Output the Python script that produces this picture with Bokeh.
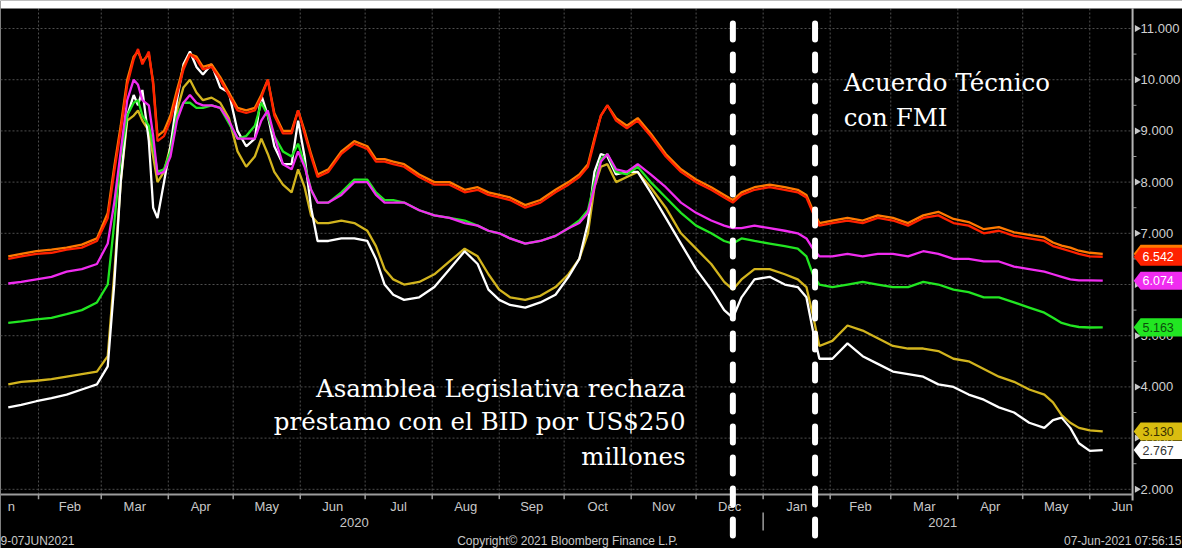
from datetime import datetime
import pandas as pd
from bokeh.plotting import figure
from bokeh.models import Range1d, BoxAnnotation
from bokeh.core.properties import value
from bokeh.embed import file_html
from bokeh.resources import INLINE

dates = ["2020-01-18","2020-01-24","2020-01-31","2020-02-07","2020-02-14","2020-02-21","2020-02-28",
         "2020-03-04","2020-03-07","2020-03-10","2020-03-13","2020-03-16","2020-03-18","2020-03-20","2020-03-23",
         "2020-03-25","2020-03-27","2020-03-30","2020-04-02","2020-04-05","2020-04-08","2020-04-11","2020-04-14",
         "2020-04-17","2020-04-21","2020-04-25","2020-04-29","2020-05-03","2020-05-07","2020-05-11","2020-05-14",
         "2020-05-17","2020-05-20","2020-05-24","2020-05-28","2020-05-31","2020-06-03","2020-06-06","2020-06-09",
         "2020-06-14","2020-06-20","2020-06-26","2020-07-02","2020-07-06","2020-07-10","2020-07-14","2020-07-19",
         "2020-07-26","2020-08-02","2020-08-09","2020-08-16","2020-08-22","2020-08-27","2020-09-01","2020-09-06",
         "2020-09-13","2020-09-20","2020-09-27","2020-10-03","2020-10-08","2020-10-12","2020-10-15","2020-10-18",
         "2020-10-21","2020-10-25","2020-10-30","2020-11-04","2020-11-10","2020-11-17","2020-11-24","2020-12-01",
         "2020-12-08","2020-12-14","2020-12-18","2020-12-22","2020-12-28","2021-01-04","2021-01-11","2021-01-17",
         "2021-01-21","2021-01-24","2021-01-27","2021-02-02","2021-02-09","2021-02-16","2021-02-23","2021-03-02",
         "2021-03-09","2021-03-16","2021-03-23","2021-03-30","2021-04-06","2021-04-13","2021-04-20","2021-04-27",
         "2021-05-04","2021-05-11","2021-05-15","2021-05-19","2021-05-23","2021-05-27","2021-06-01","2021-06-07"]

red = [6.50,6.55,6.60,6.62,6.68,6.72,6.85,7.3,8.2,9.0,9.9,10.4,10.6,10.3,10.55,9.9,8.8,8.9,9.2,9.7,10.2,10.5,
       10.4,10.2,10.25,10.0,9.7,9.4,9.35,9.4,9.65,10.0,9.3,8.95,8.95,9.4,8.95,8.5,8.1,8.2,8.55,8.75,8.65,8.4,
       8.4,8.35,8.3,8.1,7.95,7.95,7.8,7.85,7.75,7.7,7.65,7.5,7.6,7.8,7.95,8.1,8.3,8.8,9.3,9.5,9.2,9.05,9.2,8.9,
       8.5,8.2,8.0,7.85,7.7,7.6,7.75,7.85,7.9,7.85,7.8,7.7,7.4,7.15,7.2,7.25,7.2,7.3,7.25,7.15,7.3,7.35,7.2,7.15,
       7.0,7.05,6.95,6.9,6.85,6.75,6.7,6.65,6.6,6.55,6.542]

orange = [6.55,6.6,6.65,6.68,6.72,6.78,6.9,7.4,8.3,9.1,10.0,10.45,10.55,10.35,10.5,9.95,8.9,9.0,9.3,9.8,10.25,
          10.5,10.45,10.25,10.3,10.05,9.75,9.45,9.4,9.45,9.7,10.0,9.35,9.0,9.0,9.4,9.0,8.55,8.15,8.25,8.6,8.8,
          8.7,8.45,8.45,8.4,8.35,8.15,8.0,8.0,7.85,7.9,7.8,7.75,7.7,7.55,7.65,7.85,8.0,8.15,8.35,8.85,9.3,9.5,
          9.25,9.1,9.25,8.95,8.55,8.25,8.05,7.9,7.75,7.65,7.8,7.9,7.95,7.9,7.85,7.75,7.45,7.2,7.25,7.3,7.25,7.35,
          7.3,7.2,7.35,7.42,7.28,7.22,7.08,7.12,7.02,6.97,6.92,6.82,6.76,6.72,6.66,6.62,6.60]

magenta = [6.02,6.05,6.10,6.15,6.25,6.30,6.40,6.8,7.6,8.6,9.6,10.0,9.9,9.6,9.5,8.9,8.15,8.2,8.5,9.2,9.55,9.7,
           9.55,9.5,9.5,9.45,9.2,8.85,8.85,8.85,9.2,9.4,8.9,8.35,8.25,8.6,8.3,7.85,7.6,7.6,7.75,8.0,8.0,7.75,
           7.6,7.6,7.6,7.45,7.35,7.3,7.2,7.15,7.05,7.0,6.9,6.8,6.85,6.95,7.1,7.2,7.4,7.9,8.4,8.55,8.25,8.2,8.35,
           8.15,7.9,7.6,7.4,7.25,7.15,7.1,7.1,7.15,7.1,7.05,7.0,6.9,6.7,6.55,6.55,6.6,6.55,6.6,6.6,6.55,6.65,6.6,
           6.5,6.5,6.45,6.45,6.35,6.3,6.25,6.2,6.15,6.1,6.08,6.08,6.074]

green = [5.25,5.28,5.32,5.35,5.42,5.5,5.65,6.0,7.2,8.5,9.3,9.55,9.6,9.3,9.1,8.7,8.2,8.25,8.6,9.3,9.55,9.55,9.45,
         9.45,9.5,9.45,9.15,8.85,8.9,9.1,9.55,9.3,8.9,8.6,8.5,8.75,8.35,7.85,7.6,7.6,7.8,8.05,8.05,7.8,7.65,7.65,
         7.6,7.45,7.35,7.3,7.25,7.15,7.05,7.0,6.9,6.8,6.85,6.95,7.1,7.25,7.45,8.0,8.45,8.55,8.2,8.15,8.3,8.0,7.7,
         7.4,7.15,7.0,6.85,6.8,6.9,6.85,6.8,6.75,6.7,6.55,6.2,6.0,5.95,6.0,6.05,6.0,5.95,5.95,6.05,6.0,5.9,5.85,
         5.75,5.75,5.65,5.55,5.45,5.35,5.25,5.2,5.17,5.16,5.163]

yellow = [4.05,4.10,4.12,4.15,4.2,4.25,4.3,4.6,6.2,8.0,9.2,9.3,9.4,9.2,9.0,8.5,8.0,8.2,8.7,9.4,9.85,10.0,9.75,
          9.6,9.65,9.55,9.25,8.6,8.3,8.5,8.85,8.55,8.2,7.95,7.8,8.25,7.9,7.35,7.2,7.2,7.25,7.2,7.05,6.75,6.3,6.1,
          6.0,6.05,6.2,6.45,6.7,6.55,6.2,5.9,5.75,5.7,5.78,5.95,6.2,6.5,7.0,7.9,8.3,8.35,8.0,8.1,8.2,7.9,7.5,7.0,
          6.7,6.4,6.05,5.9,6.1,6.3,6.3,6.2,6.1,5.95,5.4,4.8,4.9,5.2,5.1,4.95,4.8,4.75,4.75,4.7,4.55,4.5,4.35,4.2,
          4.1,3.95,3.85,3.7,3.45,3.3,3.2,3.15,3.130]

white = [3.6,3.65,3.72,3.78,3.85,3.95,4.05,4.4,6.0,8.0,9.3,9.7,9.5,9.8,8.8,7.5,7.3,8.0,8.7,9.6,10.3,10.55,10.25,
         10.1,10.3,9.85,9.75,9.0,8.7,8.85,9.7,9.3,8.7,8.35,8.35,9.2,8.5,7.5,6.85,6.85,6.9,6.9,6.85,6.5,6.0,5.8,
         5.7,5.75,5.95,6.3,6.65,6.4,5.9,5.7,5.6,5.55,5.65,5.8,6.15,6.5,7.2,8.2,8.55,8.5,8.15,8.2,8.2,7.8,7.3,6.8,
         6.3,5.9,5.5,5.35,5.75,6.1,6.15,6.0,5.95,5.75,5.1,4.55,4.55,4.85,4.6,4.45,4.3,4.25,4.2,4.05,4.0,3.85,3.75,
         3.6,3.5,3.3,3.2,3.35,3.4,3.2,2.9,2.75,2.767]

month_names = ["Jan","Feb","Mar","Apr","May","Jun","Jul","Aug","Sep","Oct","Nov","Dec",
               "Jan","Feb","Mar","Apr","May","Jun"]
year_names = ["2020", "2021"]
y_ticks = [2, 3, 4, 5, 6, 7, 8, 9, 10, 11]
event_dates = ["2020-12-18", "2021-01-25"]

x = pd.to_datetime(dates)
month_starts = pd.date_range("2020-01-01", "2021-07-01", freq="MS")
month_mids = month_starts[:-1] + (month_starts[1:] - month_starts[:-1]) / 2
grid_months = month_starts[1:-1]

Y_TOP, Y_BOT, Y_PLOT_TOP, Y_AXIS = 11.547, 0.844, 11.39, 1.898
X0, X1 = datetime(2020, 1, 14, 10), datetime(2021, 7, 13, 21)
AXIS_X = pd.Timestamp("2021-06-20 19:00")
D = pd.Timedelta(days=1)
GRAY = "#c8c8c8"
SANS = value("Liberation Sans")
LW = 2.3

p = figure(width=1182, height=548, x_axis_type="datetime",
           x_axis_location=None, y_axis_location=None,
           x_range=Range1d(X0, X1), y_range=Range1d(Y_BOT, Y_TOP),
           output_backend="svg", toolbar_location=None,
           background_fill_color="black", border_fill_color="black",
           min_border_left=0, min_border_right=0, min_border_top=0, min_border_bottom=0)
p.outline_line_color = None
p.xgrid.visible = False
p.ygrid.visible = False

# grid
p.segment(x0=[X0] * len(y_ticks), y0=y_ticks, x1=[AXIS_X] * len(y_ticks), y1=y_ticks,
          line_color="#4e4e4e", line_dash="2 2", line_width=1)
p.segment(x0=grid_months, y0=Y_AXIS, x1=grid_months, y1=Y_PLOT_TOP,
          line_color="#4e4e4e", line_dash="2 2", line_width=1)

# series
p.line(x, yellow, line_color="#d2b41e", line_width=LW)
p.line(x, white, line_color="#ffffff", line_width=LW)
p.line(x, green, line_color="#22e622", line_width=LW)
p.line(x, magenta, line_color="#f02cf0", line_width=LW)
p.line(x, orange, line_color="#ff7a00", line_width=LW)
p.line(x, red, line_color="#ff2200", line_width=LW)

# right value axis
p.segment(x0=[AXIS_X], y0=[1.78], x1=[AXIS_X], y1=[Y_PLOT_TOP], line_color="#b4b4b4", line_width=2)
p.scatter(x=[AXIS_X + 2.0 * D] * len(y_ticks), y=y_ticks, marker="triangle", angle=-1.5708,
          size=7, fill_color="#c8c8c8", line_color=None)
minor = [t + 0.5 for t in y_ticks[:-1]]
p.segment(x0=[AXIS_X] * len(minor), y0=minor, x1=[AXIS_X + 1.8 * D] * len(minor), y1=minor,
          line_color="#9a9a9a", line_width=1)
p.text(x=[AXIS_X + 3.7 * D] * len(y_ticks), y=y_ticks, text=[f"{t:.3f}" for t in y_ticks],
       text_font=SANS, text_font_size=value("13px"), text_color="#d0d0d0",
       text_align="left", text_baseline="middle")

# bottom time axis
p.segment(x0=[X0], y0=[Y_AXIS], x1=[AXIS_X], y1=[Y_AXIS], line_color="#9c9c9c", line_width=2)
p.segment(x0=grid_months, y0=Y_AXIS, x1=grid_months, y1=Y_AXIS - 0.09,
          line_color="#9c9c9c", line_width=1.5)
p.text(x=[month_mids[0] + 4.6 * D], y=[1.664], text=[month_names[0][-1]],
       text_font=SANS, text_font_size=value("13px"), text_color=GRAY,
       text_align="right", text_baseline="middle")
p.text(x=month_mids[1:], y=[1.664] * (len(month_names) - 1), text=month_names[1:],
       text_font=SANS, text_font_size=value("13px"), text_color=GRAY,
       text_align="center", text_baseline="middle")
p.text(x=[datetime(2020, 6, 26), datetime(2021, 3, 25)], y=[1.352, 1.352], text=year_names,
       text_font=SANS, text_font_size=value("13px"), text_color=GRAY,
       text_align="center", text_baseline="middle")
p.segment(x0=[datetime(2021, 1, 1)], y0=[1.547], x1=[datetime(2021, 1, 1)], y1=[1.195],
          line_color="#9c9c9c", line_width=1.5)
p.text(x=[X0], y=[1.0], text=["9-07JUN2021"], text_font=SANS,
       text_font_size=value("12px"), text_color=GRAY, text_align="left", text_baseline="middle")
p.text(x=[datetime(2020, 10, 2, 14)], y=[1.0], text=["Copyright\u00a9 2021 Bloomberg Finance L.P."],
       text_font=SANS, text_font_size=value("12px"), text_color=GRAY,
       text_align="center", text_baseline="middle")
p.text(x=[AXIS_X + 22.6 * D], y=[1.0], text=["07-Jun-2021 07:56:15"],
       text_font=SANS, text_font_size=value("12px"), text_color=GRAY,
       text_align="right", text_baseline="middle")

# last-value tags on the axis
H = 0.176
tags = [(orange[-1], "#ff7a00", None),
        (red[-1], "#ff2200", "#ffffff"),
        (magenta[-1], "#f02cf0", "#ffffff"),
        (green[-1], "#22e622", "#0b4f0b"),
        (yellow[-1], "#d9bd10", "#3a3000"),
        (white[-1], "#ffffff", "#333333")]
tip, body, right = AXIS_X + 0.5 * D, AXIS_X + 3.7 * D, AXIS_X + 23.0 * D
xs = [[tip, body, right, right, body] for _ in tags]
ys = [[v, v + H, v + H, v - H, v - H] for v, _, _ in tags]
p.patches(xs, ys, fill_color=[c for _, c, _ in tags], line_color=None)
shown = [t for t in tags if t[2] is not None]
p.text(x=[AXIS_X + 4.6 * D] * len(shown), y=[v for v, _, _ in shown],
       text=[f"{v:.3f}" for v, _, _ in shown], text_color=[c for _, _, c in shown],
       text_font=SANS, text_font_size=value("12.5px"), text_align="left", text_baseline="middle")

# event lines
ev = pd.to_datetime(event_dates)
p.segment(x0=ev, y0=Y_PLOT_TOP, x1=ev, y1=Y_BOT, line_color="white", line_width=6,
          line_dash="16 15", line_dash_offset=16, line_cap="round")

# annotations
serif = value("DejaVu Serif")
p.text(x=[datetime(2021, 2, 7, 5)] * 2, y=[9.945, 9.262], text=["Acuerdo T\u00e9cnico", "con FMI"],
       text_font=serif, text_font_size=value("24.5px"), text_color="white",
       text_align="left", text_baseline="middle")
p.text(x=[datetime(2020, 11, 26, 3)] * 3, y=[3.969, 3.324, 2.641],
       text=["Asamblea Legislativa rechaza", "pr\u00e9stamo con el BID por US$250", "millones"],
       text_font=serif, text_font_size=value("24.5px"), text_color="white",
       text_align="right", text_baseline="middle")

# white strip at the very top of the picture
p.add_layout(BoxAnnotation(bottom=Y_PLOT_TOP, top=Y_TOP + 1, fill_color="white", fill_alpha=1.0,
                           line_color=None))

open("out.html", "w").write(file_html(p, INLINE))
